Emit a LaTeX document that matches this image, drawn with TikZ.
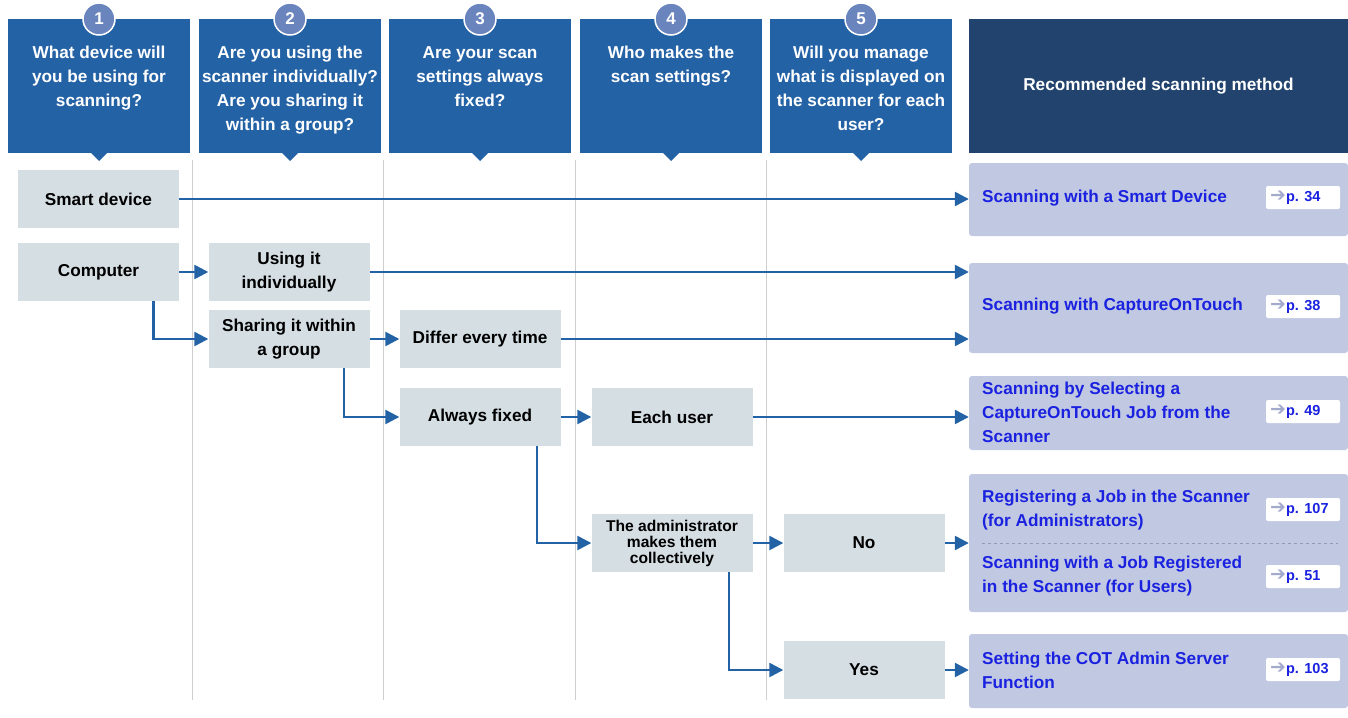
\documentclass[tikz,border=0pt]{standalone}
\usepackage{fontspec}
\setmainfont{Liberation Sans}
\newfontfamily\arrowfont{DejaVu Sans}
\usetikzlibrary{arrows.meta,positioning,calc}
\definecolor{hdr}{HTML}{2462A6}
\definecolor{darkhdr}{HTML}{21436D}
\definecolor{lbox}{HTML}{D5DEE3}
\definecolor{resbox}{HTML}{C1C8E2}
\definecolor{restxt}{HTML}{1A22E0}
\definecolor{circ}{HTML}{6A84BE}
\definecolor{parrow}{HTML}{A3AACB}
\definecolor{divider}{HTML}{CFCFCF}
\tikzset{
  hdrbox/.style={fill=hdr, draw=none, minimum width=182, minimum height=134, inner sep=0},
  hdrtext/.style={text=white, font=\bfseries\fontsize{17.2}{24}\selectfont, align=center, anchor=north, inner sep=0},
  numcirc/.style={circle, fill=circ, draw=white, line width=1.5pt, minimum size=32, inner sep=0, text=white, font=\bfseries\fontsize{17}{20}\selectfont},
  qbox/.style={fill=lbox, draw=none, minimum width=161, minimum height=58, inner sep=2, align=center, font=\bfseries\fontsize{17.2}{24}\selectfont},
  resrect/.style={fill=resbox, draw=none, rounded corners=3pt, minimum width=379, inner sep=0},
  restext/.style={text=restxt, anchor=west, align=left, inner sep=0, font=\bfseries\fontsize{17.2}{24}\selectfont},
  pagebox/.style={fill=white, draw=none, rounded corners=2pt, minimum width=74, minimum height=23, inner sep=0},
  conn/.style={draw=hdr, line width=2.4pt},
  arr/.style={conn, -{Triangle[length=14pt,width=14pt]}},
  divline/.style={draw=divider, line width=1pt},
}
\newcommand{\pg}[1]{{\arrowfont\fontsize{19}{16}\selectfont\textcolor{parrow}{➔}}{\bfseries\fontsize{14.5}{16}\selectfont\textcolor{restxt}{#1}}}
\begin{document}
\begin{tikzpicture}[x=1pt,y=-1pt]
\useasboundingbox (0,0) rectangle (1348,717);
\fill[white] (0,0) rectangle (1348,717);

% dividers
\foreach \xx in {192,383,575,766} \draw[divline] (\xx,160) -- (\xx,700);

% header boxes
\foreach \cx/\nm/\n in {99/h1/1, 290/h2/2, 480/h3/3, 671/h4/4, 861/h5/5} {
  \node[hdrbox] (\nm) at (\cx,86) {};
  \fill[hdr] (\cx-9,152) -- (\cx+9,152) -- (\cx,161) -- cycle;
  \node[numcirc] (c\nm) at (\cx,19) {\n};
}
\node[hdrtext] (t1) at (99,46) {What device will\\you be using for\\scanning?};
\node[hdrtext] (t2) at (290,46) {Are you using the\\scanner individually?\\Are you sharing it\\within a group?};
\node[hdrtext] (t3) at (480,46) {Are your scan\\settings always\\fixed?};
\node[hdrtext] (t4) at (671,46) {Who makes the\\scan settings?};
\node[hdrtext] (t5) at (861,46) {Will you manage\\what is displayed on\\the scanner for each\\user?};
\node[fill=darkhdr, minimum width=379, minimum height=134, inner sep=0, text=white, font=\bfseries\fontsize{17.2}{24}\selectfont] (rec) at (1158.5,86) {Recommended scanning method};

% question boxes
\node[qbox] (smart) at (98.5,199) {Smart device};
\node[qbox] (comp) at (98.5,272) {Computer};
\node[qbox] (indiv) at (289,272) {Using it\\individually};
\node[qbox] (share) at (289,339) {Sharing it within\\a group};
\node[qbox] (differ) at (480,339) {Differ every time};
\node[qbox] (fixed) at (480,417) {Always fixed};
\node[qbox] (each) at (672,417) {Each user};
\node[qbox, font=\bfseries\fontsize{15.6}{16}\selectfont] (admin) at (672,543) {The administrator\\makes them\\collectively};
\node[qbox] (no) at (864,543) {No};
\node[qbox] (yes) at (864,670) {Yes};

% result boxes
\node[resrect, minimum height=73] (r1) at (1158.5,199.5) {};
\node[resrect, minimum height=90] (r2) at (1158.5,308) {};
\node[resrect, minimum height=74] (r3) at (1158.5,413) {};
\node[resrect, minimum height=138] (r4) at (1158.5,543) {};
\node[resrect, minimum height=74] (r5) at (1158.5,671) {};

\node[restext] (r1t) at (982,198) {Scanning with a Smart Device};
\node[pagebox] (p1) at (1303,197.5) {};
\node[anchor=west, inner sep=0] at (1270,197.5) {\pg{p. 34}};

\node[restext] (r2t) at (982,306) {Scanning with CaptureOnTouch};
\node[pagebox] (p2) at (1303,306.5) {};
\node[anchor=west, inner sep=0] at (1270,306.5) {\pg{p. 38}};

\node[restext] (r3t) at (982,412) {Scanning by Selecting a\\CaptureOnTouch Job from the\\Scanner};
\node[pagebox] (p3) at (1303,411.5) {};
\node[anchor=west, inner sep=0] at (1270,411.5) {\pg{p. 49}};

\node[restext] (r4t) at (982,510) {Registering a Job in the Scanner\\(for Administrators)};
\node[pagebox] (p4) at (1303,509.5) {};
\node[anchor=west, inner sep=0] at (1270,509.5) {\pg{p. 107}};
\draw[draw=parrow!90!black, dashed, line width=0.8pt] (982,543) -- (1338,543);
\node[restext] (r5t) at (982,576) {Scanning with a Job Registered\\in the Scanner (for Users)};
\node[pagebox] (p5) at (1303,576.5) {};
\node[anchor=west, inner sep=0] at (1270,576.5) {\pg{p. 51}};

\node[restext] (r6t) at (982,670) {Setting the COT Admin Server\\Function};
\node[pagebox] (p6) at (1303,669.5) {};
\node[anchor=west, inner sep=0] at (1270,669.5) {\pg{p. 103}};

% connectors
\draw[arr] (smart.east) -- (smart.east -| r1.west);
\draw[arr] (comp.east) -- (indiv.west);
\draw[arr] ([xshift=55]comp.south) |- (share.west);
\draw[arr] (indiv.east) -- (indiv.east -| r2.west);
\draw[arr] (share.east) -- (differ.west);
\draw[arr] ([xshift=55]share.south) |- (fixed.west);
\draw[arr] (differ.east) -- (differ.east -| r2.west);
\draw[arr] (fixed.east) -- (each.west);
\draw[arr] ([xshift=57]fixed.south) |- (admin.west);
\draw[arr] (each.east) -- (each.east -| r3.west);
\draw[arr] (admin.east) -- (no.west);
\draw[arr] ([xshift=57]admin.south) |- (yes.west);
\draw[arr] (no.east) -- (no.east -| r4.west);
\draw[arr] (yes.east) -- (yes.east -| r5.west);
\end{tikzpicture}
\end{document}
